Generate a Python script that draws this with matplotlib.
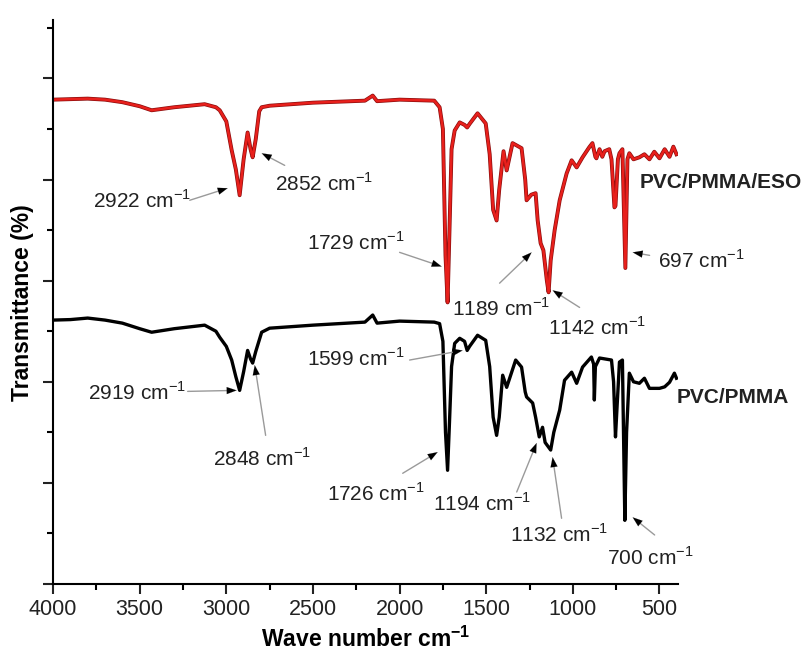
import matplotlib.pyplot as plt
import numpy as np

plt.rcParams['font.family'] = ['Liberation Sans', 'DejaVu Sans']
plt.rcParams['mathtext.fontset'] = 'custom'
plt.rcParams['mathtext.rm'] = 'Liberation Sans'
plt.rcParams['mathtext.bf'] = 'Liberation Sans:bold'

# PVC/PMMA/ESO spectrum (red), wavenumber vs transmittance (arb. offset)
eso_wn = [4000, 3900, 3800, 3700, 3600, 3500, 3431, 3300, 3125, 3060, 3038, 3000,
          2969, 2945, 2923, 2900, 2877, 2860, 2848, 2830, 2810, 2796, 2750, 2500,
          2200, 2155, 2130, 2000, 1800, 1769, 1750, 1735, 1723, 1712, 1700, 1682,
          1653, 1625, 1610, 1596, 1550, 1503, 1480, 1460, 1440, 1425, 1400, 1382,
          1348, 1296, 1275, 1267, 1240, 1215, 1203, 1186, 1170, 1150, 1140, 1128,
          1105, 1076, 1036, 1007, 978, 944, 905, 887, 870, 864, 846, 830, 817, 790,
          777, 760, 754, 740, 731, 714, 697, 685, 674, 650, 616, 587, 558, 530,
          500, 470, 442, 420, 402]
eso_t = [95.8, 95.9, 96.0, 95.8, 95.3, 94.5, 93.7, 94.3, 94.9, 94.3, 93.7, 91.5,
         85.8, 82.0, 76.9, 84.0, 89.3, 86.0, 84.4, 88.0, 93.5, 94.3, 94.6, 95.2,
         95.6, 96.6, 95.5, 95.8, 95.6, 94.3, 90.0, 65.0, 55.7, 70.0, 86.0, 89.7,
         91.3, 90.8, 90.3, 91.0, 93.1, 91.1, 85.0, 74.0, 71.9, 78.0, 85.6, 81.8,
         87.2, 86.2, 80.0, 75.9, 77.0, 77.3, 71.9, 67.4, 66.0, 60.0, 57.7, 64.0,
         70.0, 75.9, 81.2, 83.8, 82.4, 84.4, 86.4, 87.2, 84.5, 84.2, 86.0, 84.5,
         85.6, 86.0, 84.0, 74.5, 74.8, 84.0, 85.2, 86.0, 62.5, 84.0, 85.2, 84.0,
         84.4, 85.0, 84.0, 85.5, 84.2, 86.0, 84.5, 86.5, 85.0]

# PVC/PMMA spectrum (black)
pm_wn = [4000, 3900, 3800, 3700, 3600, 3500, 3431, 3300, 3125, 3060, 3038, 3000,
         2969, 2945, 2923, 2900, 2877, 2860, 2848, 2830, 2796, 2750, 2500, 2200,
         2155, 2130, 2000, 1800, 1769, 1750, 1735, 1723, 1712, 1700, 1682, 1653,
         1625, 1610, 1596, 1550, 1503, 1480, 1460, 1440, 1425, 1405, 1382, 1330,
         1296, 1275, 1267, 1232, 1215, 1194, 1175, 1160, 1128, 1110, 1076, 1048,
         1007, 978, 944, 893, 880, 876, 870, 846, 777, 765, 754, 745, 731, 714,
         700, 690, 674, 650, 616, 587, 558, 500, 470, 442, 414, 402]
pm_t = [52.2, 52.3, 52.6, 52.2, 51.6, 50.5, 49.8, 50.5, 51.2, 50.0, 48.8, 47.0,
        44.3, 41.0, 38.3, 42.0, 46.2, 44.5, 43.7, 46.0, 49.8, 50.6, 51.2, 51.8,
        53.2, 51.6, 52.0, 51.8, 51.5, 48.0, 30.0, 22.5, 32.0, 43.0, 47.6, 48.6,
        48.0, 46.2, 47.0, 49.2, 48.2, 43.0, 33.0, 29.4, 33.0, 41.3, 38.9, 44.3,
        42.9, 38.0, 37.0, 35.8, 33.0, 29.1, 31.0, 28.0, 26.5, 30.0, 34.4, 40.3,
        41.9, 39.7, 42.9, 44.9, 43.5, 36.4, 43.0, 44.7, 44.3, 40.0, 29.1, 35.0,
        43.9, 44.3, 12.6, 30.0, 41.7, 40.0, 39.7, 40.7, 38.7, 38.7, 39.0, 39.9,
        41.7, 40.7]

# peak labels: text, text left/centre (wn, t), arrow tail and tip (wn, t)
eso_labels = ['2922 cm$^{-1}$', '2852 cm$^{-1}$', '1729 cm$^{-1}$',
              '1189 cm$^{-1}$', '1142 cm$^{-1}$', '697 cm$^{-1}$']
eso_text_xy = [(3771, 75.9), (2721, 79.2), (2536, 67.6), (1700, 54.5), (1146, 50.8), (511, 64.0)]
eso_tail_xy = [(3211, 75.9), (2663, 82.8), (2000, 65.6), (1423, 59.5), (961, 54.7), (557, 65.0)]
eso_tip_xy = [(2992, 78.3), (2796, 85.2), (1757, 62.8), (1238, 65.6), (1117, 58.1), (655, 65.6)]

pm_labels = ['2919 cm$^{-1}$', '2848 cm$^{-1}$', '1599 cm$^{-1}$',
             '1726 cm$^{-1}$', '1194 cm$^{-1}$', '1132 cm$^{-1}$', '700 cm$^{-1}$']
pm_text_xy = [(3800, 37.9), (3079, 24.9), (2536, 44.7), (2421, 18.0), (1809, 16.0), (1365, 9.7), (805, 5.3)]
pm_tail_xy = [(3223, 38.1), (2773, 29.4), (1942, 44.3), (1982, 21.9), (1324, 18.2), (1065, 13.0), (528, 9.7)]
pm_tip_xy = [(2940, 38.3), (2836, 43.3), (1636, 46.2), (1780, 26.1), (1209, 27.9), (1117, 25.1), (655, 13.2)]

fig = plt.figure(figsize=(8.06, 6.54), dpi=100)
ax = fig.add_axes([0.0658, 0.107, 0.775, 0.862])

ax.plot(eso_wn, eso_t, color='#8b0d0d', lw=2.8, solid_joinstyle='round')
ax.plot(eso_wn, eso_t, color='#e8201c', lw=1.8, solid_joinstyle='round')
ax.plot(pm_wn, pm_t, color='black', lw=2.4, solid_joinstyle='round')


def label(text, txy, tail, tip):
    # grey shaft with a black arrow head
    ax.annotate('', xy=tip, xytext=tail,
                arrowprops=dict(arrowstyle='-', color='#9a9a9a', lw=1.0,
                                shrinkA=0, shrinkB=4))
    ax.annotate('', xy=tip, xytext=(tip[0] + (tail[0] - tip[0]) * 0.01,
                                    tip[1] + (tail[1] - tip[1]) * 0.01),
                arrowprops=dict(arrowstyle='-|>,head_length=0.7,head_width=0.25',
                                color='black', lw=0.1, shrinkA=0, shrinkB=0))
    ax.text(txy[0], txy[1], text, fontsize=15, color='#222222', ha='left', va='center')


for t, p, tail, tip in zip(eso_labels, eso_text_xy, eso_tail_xy, eso_tip_xy):
    label(t, p, tail, tip)
for t, p, tail, tip in zip(pm_labels, pm_text_xy, pm_tail_xy, pm_tip_xy):
    label(t, p, tail, tip)

ax.text(615, 79.4, 'PVC/PMMA/ESO', fontsize=15, fontweight='bold', ha='left', va='center', color='#222222')
ax.text(401, 36.8, 'PVC/PMMA', fontsize=15, fontweight='bold', ha='left', va='center', color='#222222')

ax.set_xlim(4000, 395)
ax.set_ylim(0, 111.5)
ax.set_xticks([4000, 3500, 3000, 2500, 2000, 1500, 1000, 500])
ax.set_xticks(np.arange(3750, 400, -500), minor=True)
ax.set_yticks(np.arange(0, 101, 20))
ax.set_yticks(np.arange(10, 111, 20), minor=True)
ax.set_yticklabels([])
ax.tick_params(axis='both', which='major', length=7, width=1.5, labelsize=15.5, colors='#222222')
ax.tick_params(axis='both', which='minor', length=4, width=1.5)
ax.spines['top'].set_visible(False)
ax.spines['right'].set_visible(False)
ax.spines['left'].set_linewidth(1.5)
ax.spines['bottom'].set_linewidth(1.5)

ax.set_xlabel('Wave number cm$^{\\mathbf{-1}}$', fontsize=16.5, fontweight='bold', labelpad=5)
ax.set_ylabel('Transmittance (%)', fontsize=16.5, fontweight='bold', labelpad=3)

plt.savefig('out.png', dpi=100)
plt.close()
